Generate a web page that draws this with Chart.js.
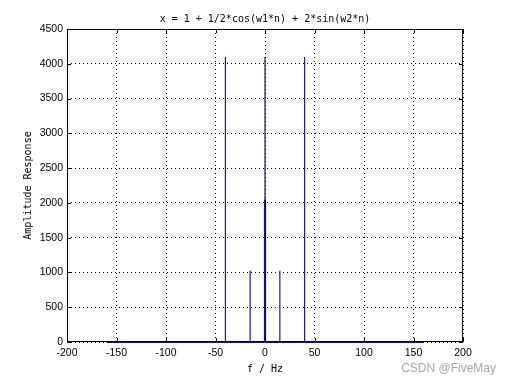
<!DOCTYPE html>
<html>
<head>
<meta charset="utf-8">
<script src="https://cdn.jsdelivr.net/npm/chart.js@4/dist/chart.umd.min.js"></script>
<style>
  html, body { margin: 0; padding: 0; background: #fff; }
  #wrap { width: 512px; height: 384px; position: relative; }
</style>
</head>
<body>
<div id="wrap"><canvas id="chart" width="512" height="384"></canvas></div>
<script>
// spectrum peaks (f / Hz, amplitude)
const peakFreqs = [-40, -15, 15, 40];
const peakAmps = [4096, 1024, 1024, 4096];
// the component at 0 Hz: tall thin line and shorter thick line
const dcFreq = 0;
const dcTall = 4096;
const dcShort = 2048;
// near-zero floor of the spectrum
const floorFreqs = [-160, 160];
const floorAmps = [0, 0];

const xTicks = [-200, -150, -100, -50, 0, 50, 100, 150, 200];
const yTicks = [0, 500, 1000, 1500, 2000, 2500, 3000, 3500, 4000, 4500];

const titleText = 'x = 1 + 1/2*cos(w1*n) + 2*sin(w2*n)';
const monoFont = '"DejaVu Sans Mono", monospace';
const tickFont = { family: '"Liberation Sans", Arial, sans-serif', size: 10.5 };

function stems(freqs, amps) {
    const pts = [];
    freqs.forEach((f, i) => {
        pts.push({ x: f, y: 0 }, { x: f, y: amps[i] }, { x: f, y: null });
    });
    return pts;
}

// box, inward ticks, title and watermark (MATLAB style)
const frame = {
    id: 'frame',
    afterDraw(chart) {
        const { ctx, chartArea: a, scales } = chart;
        ctx.save();
        ctx.strokeStyle = '#000';
        ctx.lineWidth = 1;
        ctx.strokeRect(a.left + 0.5, a.top + 0.5, a.right - a.left - 1, a.bottom - a.top - 1);
        ctx.beginPath();
        xTicks.forEach(v => {
            const px = Math.round(scales.x.getPixelForValue(v)) + 0.5;
            ctx.moveTo(px, a.bottom); ctx.lineTo(px, a.bottom - 4);
            ctx.moveTo(px, a.top); ctx.lineTo(px, a.top + 4);
        });
        yTicks.forEach(v => {
            const py = Math.round(scales.y.getPixelForValue(v)) + 0.5;
            ctx.moveTo(a.left, py); ctx.lineTo(a.left + 4, py);
            ctx.moveTo(a.right, py); ctx.lineTo(a.right - 4, py);
        });
        ctx.stroke();

        ctx.fillStyle = '#000';
        ctx.font = '10px ' + monoFont;
        ctx.textAlign = 'center';
        ctx.textBaseline = 'middle';
        ctx.fillText(titleText, (a.left + a.right) / 2, 19);

        ctx.fillStyle = '#a8a8a8';
        ctx.font = '12px "Liberation Sans", Arial, sans-serif';
        ctx.textAlign = 'right';
        ctx.fillText('CSDN @FiveMay', 496, 369);
        ctx.restore();
    }
};

new Chart(document.getElementById('chart'), {
    type: 'scatter',
    data: {
        datasets: [
            {
                data: floorFreqs.map((f, i) => ({ x: f, y: floorAmps[i] })),
                showLine: true, borderColor: '#14147a', borderWidth: 2, pointRadius: 0, clip: false
            },
            {
                data: stems(peakFreqs, peakAmps),
                showLine: true, spanGaps: false, borderColor: '#1c1ca6', borderWidth: 1.2, pointRadius: 0
            },
            {
                data: stems([dcFreq], [dcTall]),
                showLine: true, spanGaps: false, borderColor: '#14145a', borderWidth: 1.2, pointRadius: 0
            },
            {
                data: stems([dcFreq], [dcShort]),
                showLine: true, spanGaps: false, borderColor: '#0000ff', borderWidth: 2.2, pointRadius: 0
            }
        ]
    },
    options: {
        responsive: false,
        animation: false,
        layout: { padding: { top: 29, right: 49, left: 0, bottom: 0 } },
        plugins: { legend: { display: false }, tooltip: { enabled: false } },
        scales: {
            x: {
                type: 'linear', min: -200, max: 200,
                afterBuildTicks: s => { s.ticks = xTicks.map(v => ({ value: v })); },
                afterFit: s => { s.height = 42; },
                grid: { color: '#000', lineWidth: 1, drawTicks: false },
                border: { display: false, dash: [1, 3] },
                ticks: { color: '#000', font: tickFont, padding: 5, maxRotation: 0, callback: v => String(v) },
                title: { display: true, text: 'f / Hz', color: '#000', font: { family: monoFont, size: 10 }, padding: { top: 0, bottom: 9 } }
            },
            y: {
                type: 'linear', min: 0, max: 4500,
                afterBuildTicks: s => { s.ticks = yTicks.map(v => ({ value: v })); },
                afterFit: s => { s.width = 67; },
                grid: { color: '#000', lineWidth: 1, drawTicks: false },
                border: { display: false, dash: [1, 3] },
                ticks: { color: '#000', font: tickFont, padding: 4, callback: v => String(v) },
                title: { display: true, text: 'Amplitude Response', color: '#000', font: { family: monoFont, size: 10 }, padding: { top: 22, bottom: 0 } }
            }
        }
    },
    plugins: [frame]
});
</script>
</body>
</html>
